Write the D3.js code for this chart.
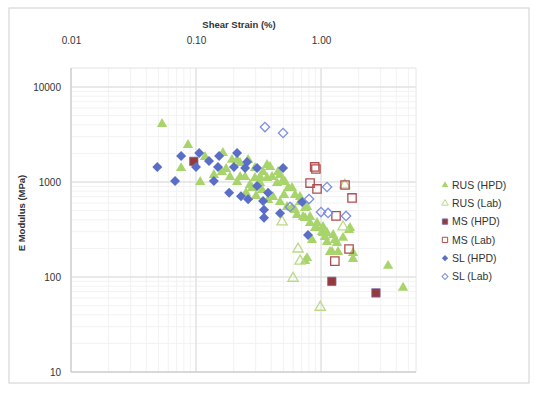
<!DOCTYPE html>
<html>
<head>
<meta charset="utf-8">
<script src="https://cdn.jsdelivr.net/npm/d3@7"></script>
<style>
  body { margin: 0; background: #fff; }
  text { font-family: "Liberation Sans", Arial, sans-serif; fill: #333; }
</style>
</head>
<body>
<div class="chart"></div>
<script>
// shear strain (%) , E modulus (MPa)
const rusHpd = [
  [0.0535, 4080], [0.0863, 2450], [0.076, 1400], [0.108, 1000], [0.118, 1830], [0.164, 2020],
  [0.194, 1710], [0.174, 1370], [0.187, 1130], [0.139, 1185], [0.161, 1275], [0.213, 1000],
  [0.225, 1585], [0.247, 1130], [0.281, 865], [0.296, 1100], [0.325, 975], [0.344, 1275],
  [0.370, 1100], [0.377, 647], [0.213, 1710], [0.261, 1710], [0.296, 1400], [0.325, 1130],
  [0.370, 1510], [0.406, 1130], [0.445, 975], [0.470, 1185], [0.515, 1000], [0.545, 865],
  [0.619, 730], [0.679, 616], [0.413, 695], [0.470, 616], [0.535, 546], [0.586, 532],
  [0.745, 532], [0.225, 1130], [0.270, 930], [0.337, 825], [0.391, 1440], [0.453, 1275],
  [0.497, 1050], [0.586, 865], [0.679, 695], [0.773, 546], [0.817, 428], [0.929, 370],
  [1.02, 298], [1.25, 277], [1.50, 258], [1.675, 313], [1.343, 228], [0.745, 418],
  [0.895, 328], [1.117, 290], [1.294, 245], [1.706, 328], [0.619, 507], [0.718, 428],
  [0.817, 370], [0.929, 328], [1.038, 290], [1.117, 233], [0.773, 158], [1.18, 183],
  [1.038, 336], [1.076, 264], [1.368, 183], [1.803, 179], [1.803, 155], [1.225, 183],
  [3.44, 131], [4.53, 77], [0.745, 147], [0.251, 766], [0.302, 713], [0.506, 730],
  [0.643, 450], [0.847, 245]
];
const rusLab = [[0.488, 380], [0.655, 197], [0.68, 147], [0.597, 97], [0.985, 48], [1.5, 336], [1.55, 930]];
const msHpd = [[0.096, 1650], [1.22, 90], [2.75, 68]];
const msLab = [[0.89, 1440], [0.91, 1370], [0.817, 975], [0.929, 845], [1.556, 930], [1.77, 680], [1.318, 440], [1.675, 197], [1.29, 147]];
const slHpd = [
  [0.049, 1440], [0.068, 1025], [0.076, 1880], [0.106, 2020], [0.100, 1440], [0.127, 1660],
  [0.139, 1025], [0.153, 1880], [0.150, 1440], [0.184, 770], [0.213, 2020], [0.201, 1440],
  [0.256, 1625], [0.247, 1400], [0.308, 1400], [0.497, 1400], [0.229, 710], [0.261, 660],
  [0.308, 910], [0.344, 630], [0.350, 510], [0.350, 420], [0.377, 770], [0.470, 470],
  [0.705, 615], [0.787, 277]
];
const slLab = [[0.356, 3790], [0.497, 3280], [1.117, 886], [0.802, 662], [0.565, 546], [1.0, 483], [1.138, 472], [1.585, 439]];

const xTicks = [0.01, 0.1, 1];
const xTickLabels = ['0.01', '0.10', '1.00'];
const yTicks = [10, 100, 1000, 10000];

const series = [
  { name: 'RUS (HPD)', data: rusHpd, shape: d3.symbolTriangle, rot: 0, fill: '#a8d46c', stroke: 'none', size: 46 },
  { name: 'RUS (Lab)', data: rusLab, shape: d3.symbolTriangle, rot: 0, fill: 'none', stroke: '#bcd98a', size: 46 },
  { name: 'MS (HPD)', data: msHpd, shape: d3.symbolSquare, rot: 0, fill: '#953a3c', stroke: '#7a6aa8', size: 70 },
  { name: 'MS (Lab)', data: msLab, shape: d3.symbolSquare, rot: 0, fill: 'none', stroke: '#b04e50', size: 70 },
  { name: 'SL (HPD)', data: slHpd, shape: d3.symbolSquare, rot: 45, fill: '#5a6ec8', stroke: 'none', size: 50 },
  { name: 'SL (Lab)', data: slLab, shape: d3.symbolSquare, rot: 45, fill: 'none', stroke: '#7d8fe0', size: 44 }
];

const Width = 535;
const Height = 394;
const pLeft = 71, pRight = 416, pTop = 68, pBottom = 372;

const svg = d3.select('.chart').append('svg').attr('width', Width).attr('height', Height);

// outer frame
svg.append('rect').attr('x', 9).attr('y', 8).attr('width', 520).attr('height', 375)
  .attr('fill', 'none').attr('stroke', '#d0d0d0');

const x = d3.scaleLog().domain([0.01, 5.75]).range([pLeft, pRight]);
const y = d3.scaleLog().domain([10, 15850]).range([pBottom, pTop]);

// minor grid
svg.append('g').selectAll('line').data(x.ticks()).enter().append('line')
  .attr('x1', d => x(d)).attr('x2', d => x(d)).attr('y1', pTop).attr('y2', pBottom)
  .attr('stroke', '#f2f2f2');
svg.append('g').selectAll('line').data(y.ticks()).enter().append('line')
  .attr('y1', d => y(d)).attr('y2', d => y(d)).attr('x1', pLeft).attr('x2', pRight)
  .attr('stroke', '#f2f2f2');

// major grid
svg.append('g').selectAll('line').data(xTicks).enter().append('line')
  .attr('x1', d => x(d)).attr('x2', d => x(d)).attr('y1', pTop).attr('y2', pBottom)
  .attr('stroke', '#d9d9d9');
svg.append('g').selectAll('line').data(yTicks).enter().append('line')
  .attr('y1', d => y(d)).attr('y2', d => y(d)).attr('x1', pLeft).attr('x2', pRight)
  .attr('stroke', '#d9d9d9');
svg.append('line').attr('x1', pLeft).attr('x2', pRight).attr('y1', pTop).attr('y2', pTop).attr('stroke', '#e2e2e2');
svg.append('line').attr('x1', pRight).attr('x2', pRight).attr('y1', pTop).attr('y2', pBottom).attr('stroke', '#e8e8e8');

// axes
const xAxis = svg.append('g').attr('transform', 'translate(0,' + 47 + ')')
  .call(d3.axisTop(x).tickValues(xTicks).tickSize(0).tickFormat((d, i) => xTickLabels[i]));
xAxis.select('.domain').remove();
xAxis.selectAll('text').attr('font-size', 10).attr('fill', '#333');

const yAxis = svg.append('g').attr('transform', 'translate(' + 64 + ',0)')
  .call(d3.axisLeft(y).tickValues(yTicks).tickSize(0).tickFormat(d3.format('d')));
yAxis.select('.domain').remove();
yAxis.selectAll('text').attr('font-size', 10).attr('fill', '#333');

svg.append('line').attr('x1', pLeft).attr('x2', pLeft).attr('y1', pTop).attr('y2', pBottom).attr('stroke', '#c8c8c8');
svg.append('line').attr('x1', pLeft).attr('x2', pRight).attr('y1', pBottom).attr('y2', pBottom).attr('stroke', '#c8c8c8');

// titles
svg.append('text').attr('x', 239).attr('y', 28).attr('text-anchor', 'middle')
  .attr('font-size', 9.5).attr('font-weight', 'bold').attr('fill', '#222').text('Shear Strain (%)');
svg.append('text').attr('transform', 'translate(25,213) rotate(-90)').attr('text-anchor', 'middle')
  .attr('font-size', 9.5).attr('font-weight', 'bold').attr('fill', '#222').text('E Modulus (MPa)');

// points
series.forEach(s => {
  svg.append('g').selectAll('path').data(s.data).enter().append('path')
    .attr('d', d3.symbol().type(s.shape).size(s.size))
    .attr('transform', d => 'translate(' + x(d[0]) + ',' + y(d[1]) + ') rotate(' + s.rot + ')')
    .attr('fill', s.fill).attr('stroke', s.stroke).attr('stroke-width', s.fill === 'none' ? 1.3 : 0.8);
});

// legend
const legend = svg.append('g').selectAll('g').data(series).enter().append('g')
  .attr('transform', (d, i) => 'translate(445,' + (185 + i * 18.3) + ')');
legend.append('path')
  .attr('d', d => d3.symbol().type(d.shape).size(d.size * 0.4)())
  .attr('transform', d => 'rotate(' + d.rot + ')')
  .attr('fill', d => d.fill).attr('stroke', d => d.stroke).attr('stroke-width', 1);
legend.append('text').attr('x', 7).attr('dy', '0.35em').attr('font-size', 10.5).attr('fill', '#333')
  .text(d => d.name);
</script>
</body>
</html>
